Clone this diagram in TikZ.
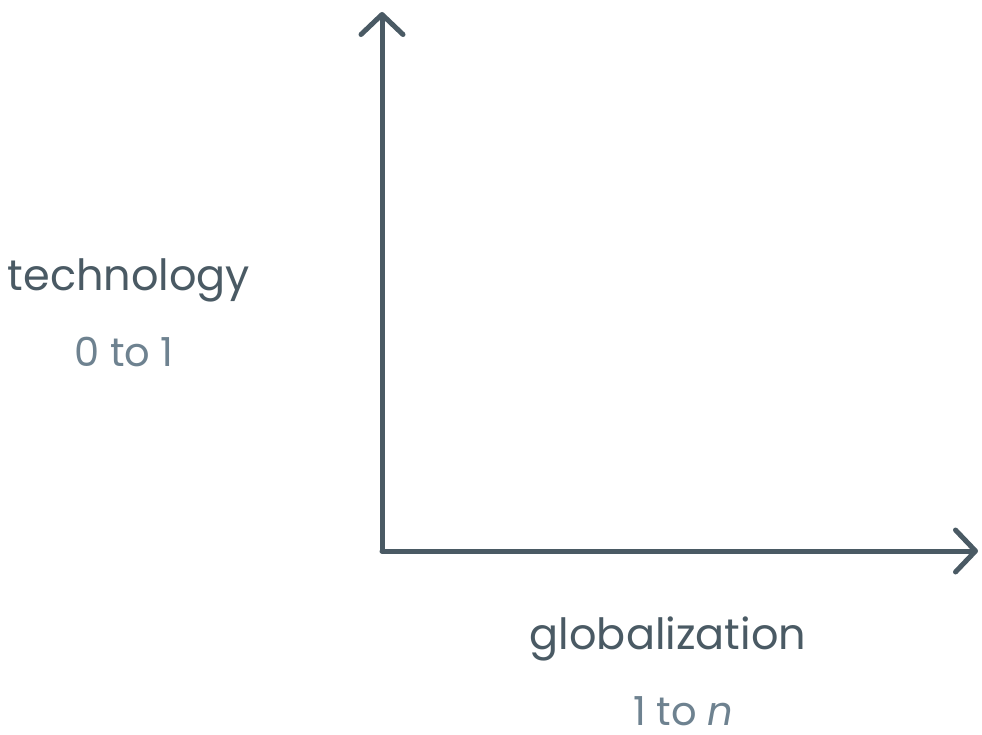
\documentclass[tikz,border=0pt]{standalone}
\usepackage{fontspec}
\setmainfont{Poppins}
\usetikzlibrary{arrows.meta}
\definecolor{axisgray}{HTML}{4A5A64}
\definecolor{rangegray}{HTML}{6E8290}

\begin{document}
\begin{tikzpicture}[x=1pt, y=-1pt,
        axisline/.style={draw=axisgray, line width=5pt, line cap=round,
            -{Straight Barb[length=20pt, width=42pt, line cap=round, line join=round]}},
        axislabel/.style={text=axisgray, anchor=base, inner sep=0pt, font=\fontsize{43}{47}\selectfont},
        rangelabel/.style={text=rangegray, anchor=base, inner sep=0pt, font=\fontsize{40}{44}\selectfont}]
        \useasboundingbox (0, 0) rectangle (982, 734);
        \coordinate (origin) at (382, 551);
        \coordinate (ytip) at (382, 12);
        \coordinate (xtip) at (978, 551);
        \draw[axisline] (origin) -- (ytip);
        \draw[axisline] (origin) -- (xtip);
        \node[axislabel] (ylabel) at (129, 290) {technology};
        \node[rangelabel] (yrange) at (124, 366) {0 to 1};
        \node[axislabel] (xlabel) at (668, 649) {globalization};
        \node[rangelabel] (xrange) at (683, 725) {1 to \textit{n}};
    \end{tikzpicture}
\end{document}
